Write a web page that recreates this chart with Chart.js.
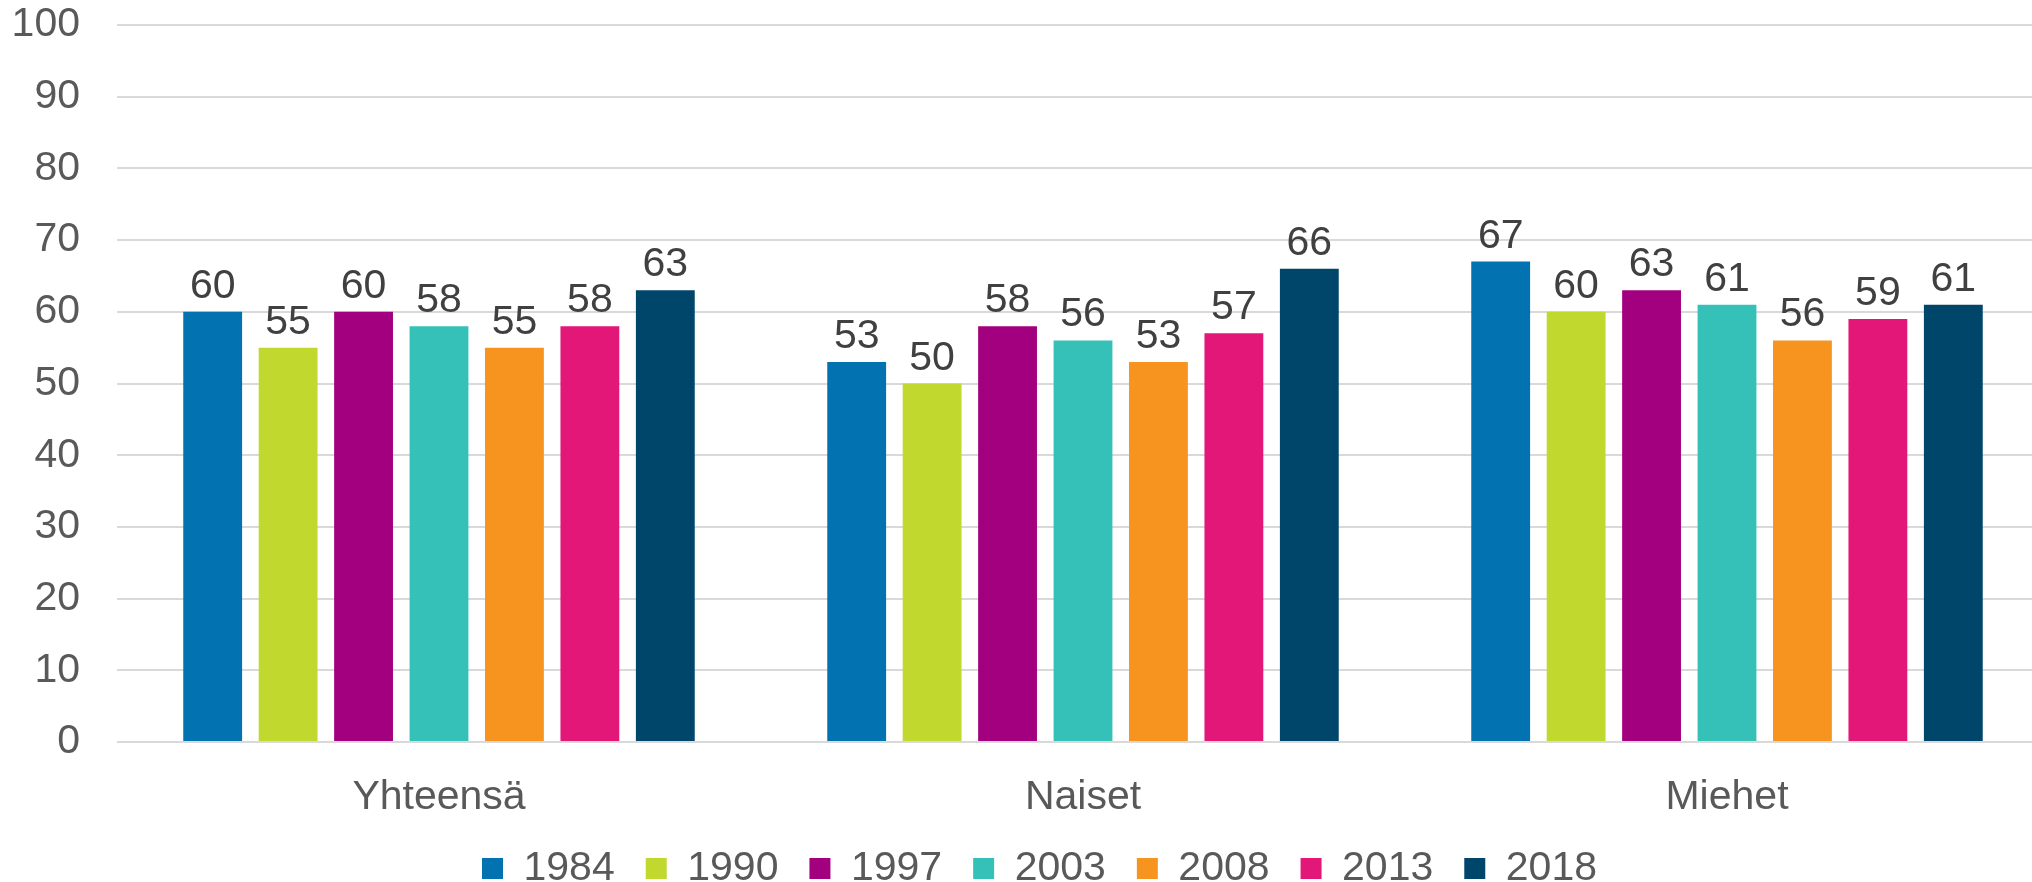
<!DOCTYPE html>
<html>
<head>
<meta charset="utf-8">
<script src="https://cdn.jsdelivr.net/npm/chart.js@4/dist/chart.umd.min.js"></script>
<style>
  html, body { margin: 0; padding: 0; background: #fff; overflow: hidden; }
  /* plot area runs slightly past the right edge in the original */
  #wrap { width: 2049px; height: 882px; }
</style>
</head>
<body>
<div id="wrap"><canvas id="chart"></canvas></div>
<script>
const categories = ['Yhteensä', 'Naiset', 'Miehet'];
const years = ['1984', '1990', '1997', '2003', '2008', '2013', '2018'];
const colors = ['#0272b0', '#c1d82f', '#a3007f', '#35c1b8', '#f7941f', '#e31778', '#00466a'];

const v1984 = [60, 53, 67];
const v1990 = [55, 50, 60];
const v1997 = [60, 58, 63];
const v2003 = [58, 56, 61];
const v2008 = [55, 53, 56];
const v2013 = [58, 57, 59];
const v2018 = [63, 66, 61];
const series = [v1984, v1990, v1997, v2003, v2008, v2013, v2018];

const yTicks = [0, 10, 20, 30, 40, 50, 60, 70, 80, 90, 100];

const FONT = 'Liberation Sans, Arial, sans-serif';

// value labels above each bar
const barLabels = {
    id: 'barLabels',
    afterLayout(chart) {
        // legend sits a little right of centre in the original
        chart.legend.left += 10;
        chart.legend.right += 10;
    },
    afterDatasetsDraw(chart) {
        const ctx = chart.ctx;
        ctx.save();
        ctx.font = '41px ' + FONT;
        ctx.fillStyle = '#404040';
        ctx.textAlign = 'center';
        ctx.textBaseline = 'alphabetic';
        chart.data.datasets.forEach((ds, i) => {
            const meta = chart.getDatasetMeta(i);
            meta.data.forEach((bar, j) => {
                ctx.fillText(String(ds.data[j]), bar.x, bar.y - 14);
            });
        });
        ctx.restore();
    }
};

new Chart(document.getElementById('chart'), {
    type: 'bar',
    data: {
        labels: categories,
        datasets: years.map((y, i) => ({
            label: y,
            data: series[i],
            backgroundColor: colors[i],
            borderWidth: 0,
            categoryPercentage: 0.82,
            barPercentage: 0.78
        }))
    },
    options: {
        responsive: true,
        maintainAspectRatio: false,
        animation: false,
        layout: { padding: { left: 10, right: 0, top: 0, bottom: -17 } },
        plugins: {
            legend: {
                display: true,
                position: 'bottom',
                labels: {
                    boxWidth: 21,
                    boxHeight: 21,
                    padding: 31,
                    color: '#595959',
                    font: { family: FONT, size: 41 }
                }
            },
            tooltip: { enabled: false }
        },
        scales: {
            x: {
                afterFit: (axis) => { axis.height = 75; },
                grid: { display: false, drawTicks: false },
                border: { display: false },
                ticks: { color: '#595959', padding: 31, font: { family: FONT, size: 41 } }
            },
            y: {
                min: 0,
                max: 100,
                afterBuildTicks: (axis) => { axis.ticks = yTicks.map(v => ({ value: v })); },
                afterFit: (axis) => { axis.width = 107; axis.paddingTop = 25; },
                grid: { color: '#d9d9d9', lineWidth: 2, drawTicks: false },
                border: { display: false },
                ticks: { color: '#595959', padding: 37, font: { family: FONT, size: 41 } }
            }
        }
    },
    plugins: [barLabels]
});
</script>
</body>
</html>
